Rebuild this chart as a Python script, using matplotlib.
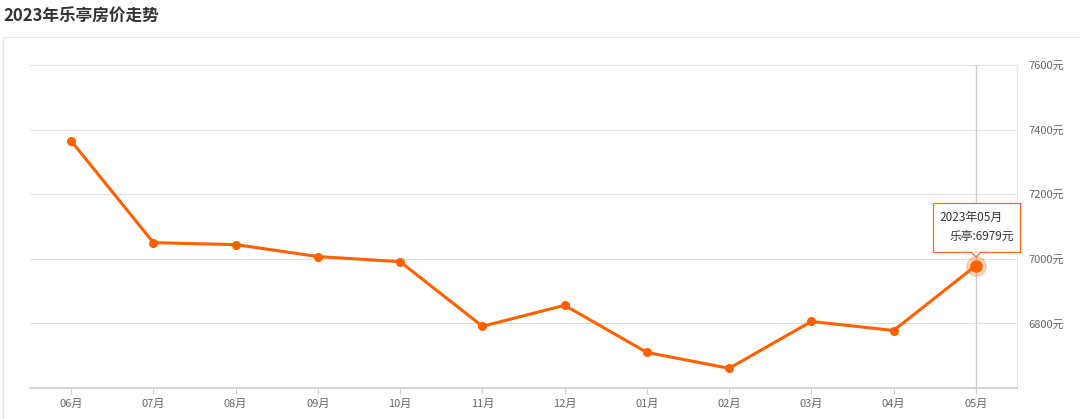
import matplotlib
matplotlib.use("Agg")
import matplotlib.pyplot as plt
from matplotlib.patches import Rectangle, Polygon

plt.rcParams['font.family'] = ['Noto Sans CJK SC', 'DejaVu Sans']

months = ["06月", "07月", "08月", "09月", "10月", "11月", "12月", "01月", "02月", "03月", "04月", "05月"]
prices = [7365, 7050, 7044, 7007, 6991, 6791, 6856, 6710, 6661, 6806, 6778, 6979]
yticks = [6800, 7000, 7200, 7400, 7600]
title = "2023年乐亭房价走势"
series_name = "乐亭"
tooltip_period = "2023年05月"

W, H = 1080, 419
fig = plt.figure(figsize=(W / 100, H / 100), dpi=100)
fig.patch.set_facecolor('white')

# outer panel border
fig.add_artist(Rectangle((3 / W, -0.01), (W - 2) / W, 1 - 37 / H + 0.01,
                         transform=fig.transFigure, fill=False,
                         edgecolor='#e6e6e6', linewidth=1.0))
fig.text(3 / W, 1 - 17 / H, title, fontsize=12, fontweight='bold',
         color='#333333', va='center', ha='left')

left, right, top, bottom = 30, 1017, 65, 388
ax = fig.add_axes([left / W, 1 - bottom / H, (right - left) / W, (bottom - top) / H])
x = list(range(len(months)))
color = '#ff6000'

ax.set_xlim(-0.5, len(months) - 0.5)
ax.set_ylim(6600, 7600)
for v in yticks:
    ax.axhline(v, color='#e0e0e0', linewidth=0.8, zorder=0)

ax.axvline(x[-1], color='#cccccc', linewidth=1.0, zorder=1)

ax.plot(x, prices, color=color, linewidth=2.2, marker='o', markersize=5.5,
        markerfacecolor=color, markeredgecolor=color, zorder=3)
ax.plot([x[-1]], [prices[-1]], 'o', markersize=14, color=color, alpha=0.25, zorder=3)
ax.plot([x[-1]], [prices[-1]], 'o', markersize=8, color=color, zorder=4)

ax.set_xticks(x)
ax.set_xticklabels(months, fontsize=8, color='#666666')
ax.set_yticks(yticks)
ax.set_yticklabels([f"{v}元" for v in yticks], fontsize=8, color='#666666')
ax.yaxis.tick_right()
ax.tick_params(axis='y', length=0, pad=8)
ax.tick_params(axis='x', length=4, color='#cccccc', pad=4)

for s in ['top', 'left']:
    ax.spines[s].set_visible(False)
ax.spines['right'].set_color('#e6e6e6')
ax.spines['bottom'].set_color('#cccccc')
ax.spines['bottom'].set_linewidth(1.2)

# tooltip
bx0, by0, bx1, by1 = 933, 203, 1020, 252
fig.add_artist(Rectangle((bx0 / W, 1 - by1 / H), (bx1 - bx0) / W, (by1 - by0) / H,
                         transform=fig.transFigure, facecolor='white',
                         edgecolor='#ff6a1a', linewidth=0.9, zorder=10))
cx = 976
tri = Polygon([((cx - 5) / W, 1 - (by1 - 0.5) / H), ((cx + 5) / W, 1 - (by1 - 0.5) / H),
               (cx / W, 1 - (by1 + 5) / H)], closed=True, transform=fig.transFigure,
              facecolor='white', edgecolor='none', zorder=11)
fig.add_artist(tri)
fig.add_artist(plt.Line2D([(cx - 5) / W, cx / W, (cx + 5) / W],
                          [1 - by1 / H, 1 - (by1 + 5) / H, 1 - by1 / H],
                          transform=fig.transFigure, color='#ff6a1a', linewidth=0.9, zorder=12))
fig.text(939 / W, 1 - 217 / H, tooltip_period, fontsize=8.5, color='#333333',
         va='center', ha='left', zorder=13)
fig.text(1014 / W, 1 - 236 / H, f"{series_name}:{prices[-1]}元", fontsize=8.5,
         color='#333333', va='center', ha='right', zorder=13)

fig.savefig("out.png", dpi=100)
